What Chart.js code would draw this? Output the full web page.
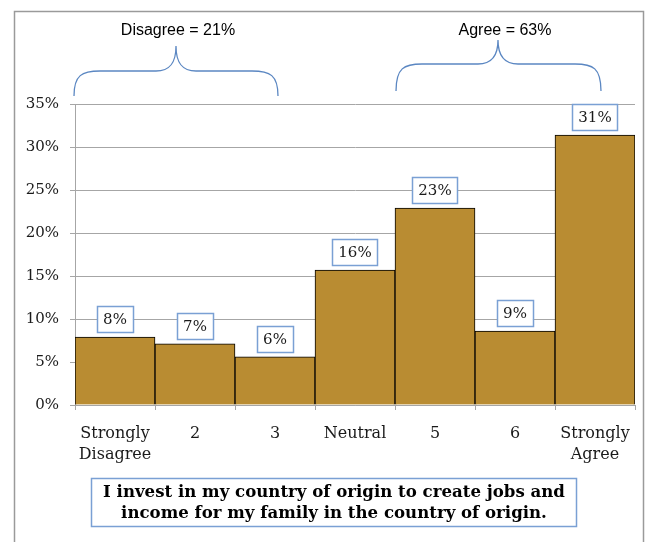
<!DOCTYPE html>
<html>
<head>
<meta charset="utf-8">
<script src="https://cdn.jsdelivr.net/npm/chart.js@4/dist/chart.umd.min.js"></script>
<style>
  html, body { margin: 0; padding: 0; background: #ffffff; }
  #wrap { position: relative; width: 652px; height: 542px; }
</style>
</head>
<body>
<div id="wrap"><canvas id="c" width="652" height="542"></canvas></div>
<script>
// Response categories (7-point scale)
const categories = [['Strongly', 'Disagree'], '2', '3', 'Neutral', '5', '6', ['Strongly', 'Agree']];
// Share of respondents per answer, in percent
const shares = [7.9, 7.1, 5.6, 15.7, 22.9, 8.6, 31.4];
// Y axis tick values (percent)
const yTicks = [0, 5, 10, 15, 20, 25, 30, 35];
// Groupings summarised above the bars
const groupNames = ['Disagree', 'Agree'];
const groupMembers = [[0, 1, 2], [4, 5, 6]];
// Statement shown in the caption box
const statementLines = [
  'I invest in my country of origin to create jobs and',
  'income for my family in the country of origin.'
];

const BAR = '#b98c32';
const BLUE = '#5b87c2';
const BOX_BLUE = '#7aa0d4';
const GRID = '#a6a6a6';
const SERIF = '"DejaVu Serif", "Liberation Serif", serif';
const SANS = '"Liberation Sans", Arial, sans-serif';

const groupTotals = groupMembers.map(idx => Math.round(idx.reduce((s, i) => s + shares[i], 0)));

// Outer frame around the whole figure
const framePlugin = {
  id: 'frame',
  beforeDraw(chart) {
    const ctx = chart.ctx;
    ctx.save();
    ctx.fillStyle = '#ffffff';
    ctx.fillRect(0, 0, chart.width, chart.height);
    ctx.strokeStyle = '#9a9a9a';
    ctx.lineWidth = 1.5;
    ctx.strokeRect(14.5, 11.5, 629, 600);
    ctx.restore();
  }
};

// Value boxes above each bar
const valueBoxPlugin = {
  id: 'valueBoxes',
  afterDatasetsDraw(chart) {
    const ctx = chart.ctx;
    const meta = chart.getDatasetMeta(0);
    ctx.save();
    ctx.font = '15px ' + SERIF;
    ctx.textAlign = 'center';
    ctx.textBaseline = 'middle';
    meta.data.forEach((bar, i) => {
      const txt = Math.round(shares[i]) + '%';
      const w = ctx.measureText(txt).width + 12;
      const h = 26;
      const x = bar.x - w / 2;
      const y = bar.y - 5 - h;
      ctx.fillStyle = '#ffffff';
      ctx.fillRect(x, y, w, h);
      ctx.strokeStyle = BOX_BLUE;
      ctx.lineWidth = 1.5;
      ctx.strokeRect(Math.round(x) + 0.5, Math.round(y) + 0.5, Math.round(w), h);
      ctx.fillStyle = '#1a1a1a';
      ctx.fillText(txt, bar.x, y + h / 2 + 1);
    });
    ctx.restore();
  }
};

// Curly braces with group totals, and the statement caption
function drawBrace(ctx, x0, x1, xt, yEnd, yFlat, yTip) {
  ctx.beginPath();
  ctx.moveTo(x0, yEnd);
  ctx.bezierCurveTo(x0, yFlat + 4, x0 + 8, yFlat, x0 + 26, yFlat);
  ctx.lineTo(xt - 20, yFlat);
  ctx.bezierCurveTo(xt - 6, yFlat, xt, yFlat - 8, xt, yTip);
  ctx.bezierCurveTo(xt, yFlat - 8, xt + 6, yFlat, xt + 20, yFlat);
  ctx.lineTo(x1 - 26, yFlat);
  ctx.bezierCurveTo(x1 - 8, yFlat, x1, yFlat + 4, x1, yEnd);
  ctx.stroke();
}

const annotationPlugin = {
  id: 'annotations',
  afterDraw(chart) {
    const ctx = chart.ctx;
    ctx.save();
    ctx.strokeStyle = BLUE;
    ctx.lineWidth = 1.3;
    drawBrace(ctx, 74, 278, 176, 96, 71, 46);
    drawBrace(ctx, 396, 601, 498, 91, 64, 40);

    ctx.fillStyle = '#000000';
    ctx.font = '16px ' + SANS;
    ctx.textAlign = 'center';
    ctx.textBaseline = 'alphabetic';
    ctx.fillText(groupNames[0] + ' = ' + groupTotals[0] + '%', 178, 35);
    ctx.fillText(groupNames[1] + ' = ' + groupTotals[1] + '%', 505, 35);

    // caption box
    ctx.strokeStyle = BOX_BLUE;
    ctx.lineWidth = 1.5;
    ctx.fillStyle = '#ffffff';
    ctx.fillRect(91, 478, 485, 48);
    ctx.strokeRect(91.5, 478.5, 485, 48);
    ctx.fillStyle = '#000000';
    ctx.font = 'bold 16.6px ' + SERIF;
    ctx.textBaseline = 'middle';
    statementLines.forEach((line, i) => {
      ctx.fillText(line, 334, 493 + i * 21);
    });
    ctx.restore();
  }
};

new Chart(document.getElementById('c'), {
  type: 'bar',
  data: {
    labels: categories,
    datasets: [{
      data: shares,
      backgroundColor: BAR,
      borderColor: '#000000',
      borderWidth: 1,
      barPercentage: 1,
      categoryPercentage: 1
    }]
  },
  options: {
    responsive: false,
    animation: false,
    devicePixelRatio: 1,
    layout: { padding: { top: 104, right: 17, left: 0, bottom: 0 } },
    plugins: {
      legend: { display: false },
      tooltip: { enabled: false }
    },
    scales: {
      x: {
        afterFit(s) { s.height = 137; },
        grid: {
          drawOnChartArea: false,
          drawTicks: true,
          tickLength: 5,
          color: GRID,
          offset: true
        },
        border: { color: GRID, width: 1 },
        ticks: {
          color: '#1a1a1a',
          padding: 13,
          maxRotation: 0,
          autoSkip: false,
          font: { family: SERIF, size: 16, lineHeight: '21px' }
        }
      },
      y: {
        min: yTicks[0],
        max: yTicks[yTicks.length - 1],
        afterFit(s) { s.width = 75; },
        afterBuildTicks(s) { s.ticks = yTicks.map(v => ({ value: v })); },
        grid: { color: GRID, tickLength: 5, lineWidth: 1 },
        border: { color: GRID, width: 1 },
        ticks: {
          color: '#1a1a1a',
          padding: 11,
          font: { family: SERIF, size: 15 },
          callback: v => v + '%'
        }
      }
    }
  },
  plugins: [framePlugin, valueBoxPlugin, annotationPlugin]
});
</script>
</body>
</html>
